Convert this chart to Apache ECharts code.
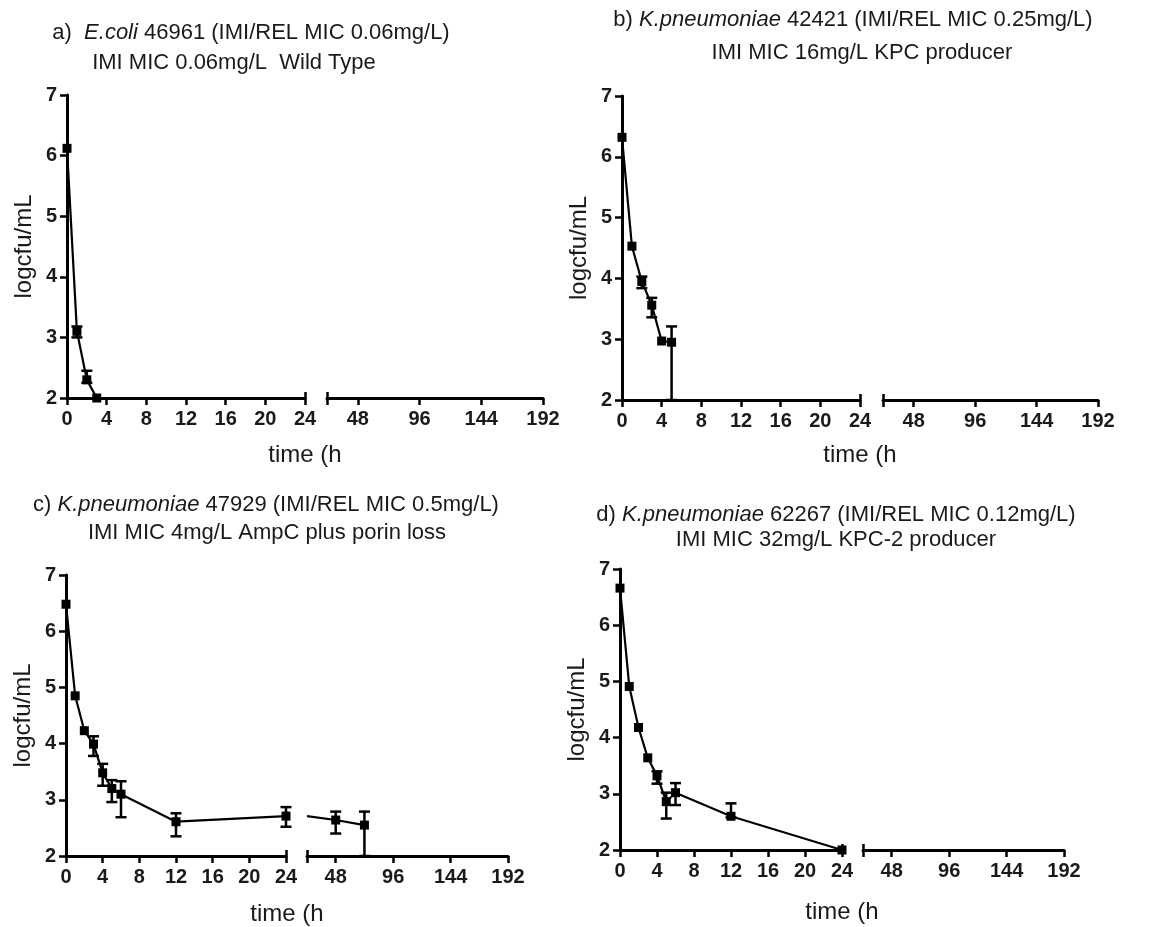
<!DOCTYPE html>
<html><head><meta charset="utf-8">
<script src="https://cdn.jsdelivr.net/npm/echarts@6/dist/echarts.min.js"></script>
<style>html,body{margin:0;padding:0;background:#fff}#c{width:1156px;height:927px}</style>
</head><body><div id="c"></div>
<script>
// ---------- DATA ----------
const leftTicksInterval = 4;           // 0..24 every 4 h
const rightTicks = [48, 96, 144, 192]; // broken segment tick labels
const yMin = 2, yMax = 7;

const timeA = [0, 1, 2, 3];
const meanA = [6.12, 3.10, 2.30, 2.00];
const upA   = [null, 3.18, 2.45, null];
const lowA  = [null, 3.00, 2.25, null];

const timeB = [0, 1, 2, 3, 4, 5];
const meanB = [6.32, 4.53, 3.95, 3.56, 2.97, 2.95];
const upB   = [null, null, 4.03, 3.68, null, 3.21];
const lowB  = [null, null, 3.84, 3.36, null, 2.00];

const timeC = [0, 1, 2, 3, 4, 5, 6, 12, 24, 48, 72];
const meanC = [6.48, 4.85, 4.23, 3.99, 3.48, 3.20, 3.10, 2.61, 2.71, 2.64, 2.55];
const upC   = [null, null, null, 4.13, 3.64, 3.35, 3.33, 2.76, 2.87, 2.79, 2.79];
const lowC  = [null, null, null, 3.78, 3.25, 2.96, 2.69, 2.35, 2.52, 2.40, 2.00];

const timeD = [0, 1, 2, 3, 4, 5, 6, 12, 24];
const meanD = [6.66, 4.91, 4.18, 3.64, 3.32, 2.86, 3.02, 2.60, 2.00];
const upD   = [null, null, null, null, 3.40, 3.02, 3.19, 2.83, null];
const lowD  = [null, null, null, null, 3.18, 2.56, 2.80, 2.58, null];

const titles1 = [
  ['a)  ', 'E.coli', ' 46961 (IMI/REL MIC 0.06mg/L)'],
  ['b) ', 'K.pneumoniae', ' 42421 (IMI/REL MIC 0.25mg/L)'],
  ['c) ', 'K.pneumoniae', ' 47929 (IMI/REL MIC 0.5mg/L)'],
  ['d) ', 'K.pneumoniae', ' 62267 (IMI/REL MIC 0.12mg/L)']
];
const titles2 = [
  'IMI MIC 0.06mg/L  Wild Type',
  'IMI MIC 16mg/L KPC producer',
  'IMI MIC 4mg/L AmpC plus porin loss',
  'IMI MIC 32mg/L KPC-2 producer'
];
const yName = 'logcfu/mL';
const xName = 'time (h';

// ---------- LAYOUT ----------
const layout = [
  {x0: 67,  x24: 305, r0: 327, r1: 543,  top: 95,  bottom: 398, t1: [251, 33],  t2: [234, 63],  xl: [305, 455]},
  {x0: 622, x24: 860, r0: 883, r1: 1098, top: 96,  bottom: 400, t1: [853, 20],  t2: [862, 53],  xl: [860, 455]},
  {x0: 66,  x24: 286, r0: 307, r1: 508,  top: 575, bottom: 856, t1: [266, 505], t2: [267, 533], xl: [287, 914]},
  {x0: 620, x24: 842, r0: 863, r1: 1064, top: 569, bottom: 850, t1: [836, 515], t2: [836, 540], xl: [842, 912]}
];
const panels = [
  {t: timeA, m: meanA, up: upA, lo: lowA},
  {t: timeB, m: meanB, up: upB, lo: lowB},
  {t: timeC, m: meanC, up: upC, lo: lowC},
  {t: timeD, m: meanD, up: upD, lo: lowD}
];

const FONT = '"Liberation Sans", Arial, sans-serif';
const INK = '#000';
const TXT = '#1a1a1a';

const grids = [], xAxes = [], yAxes = [], series = [], graphics = [];

const axisLine = {show: true, lineStyle: {color: INK, width: 3}};
const tickOut = {show: true, length: 7, lineStyle: {color: INK, width: 2.5}};
const tickLabel = {color: TXT, fontFamily: FONT, fontWeight: 'bold', fontSize: 20};

function errRender(params, api) {
  const x = api.value(0), lo = api.value(1), hi = api.value(2);
  const pHi = api.coord([x, hi]), pLo = api.coord([x, lo]);
  const w = 5.5;
  const st = {stroke: INK, lineWidth: 2.5};
  return {type: 'group', children: [
    {type: 'line', shape: {x1: pHi[0], y1: pHi[1], x2: pLo[0], y2: pLo[1]}, style: st},
    {type: 'line', shape: {x1: pHi[0] - w, y1: pHi[1], x2: pHi[0] + w, y2: pHi[1]}, style: st},
    {type: 'line', shape: {x1: pLo[0] - w, y1: pLo[1], x2: pLo[0] + w, y2: pLo[1]}, style: st}
  ]};
}

panels.forEach((p, i) => {
  const L = layout[i];
  const gL = grids.length;
  grids.push({left: L.x0, top: L.top, width: L.x24 - L.x0, height: L.bottom - L.top});
  const gR = grids.length;
  grids.push({left: L.r0, top: L.top, width: L.r1 - L.r0, height: L.bottom - L.top});

  const xiL = xAxes.length;
  xAxes.push({gridIndex: gL, type: 'value', position: 'bottom', min: 0, max: 24, interval: leftTicksInterval,
    axisLine, axisTick: tickOut, axisLabel: Object.assign({margin: 11}, tickLabel), splitLine: {show: false}});
  const xiR = xAxes.length;
  xAxes.push({gridIndex: gR, type: 'value', position: 'bottom', min: 24, max: 192,
    axisLine, axisTick: Object.assign({customValues: [24].concat(rightTicks)}, tickOut),
    axisLabel: Object.assign({margin: 11, customValues: rightTicks}, tickLabel), splitLine: {show: false}});
  // upward half of the break caps
  xAxes.push({gridIndex: gL, type: 'value', position: 'bottom', min: 0, max: 24,
    axisLine: {show: false}, axisTick: {show: true, inside: true, length: 6, customValues: [24], lineStyle: {color: INK, width: 2.5}},
    axisLabel: {show: false}, splitLine: {show: false}});
  xAxes.push({gridIndex: gR, type: 'value', position: 'bottom', min: 24, max: 192,
    axisLine: {show: false}, axisTick: {show: true, inside: true, length: 6, customValues: [24], lineStyle: {color: INK, width: 2.5}},
    axisLabel: {show: false}, splitLine: {show: false}});

  const yiL = yAxes.length;
  yAxes.push({gridIndex: gL, type: 'value', min: yMin, max: yMax, interval: 1,
    axisLine, axisTick: tickOut, axisLabel: Object.assign({margin: 10}, tickLabel), splitLine: {show: false},
    name: yName, nameLocation: 'middle', nameRotate: 90, nameGap: 31,
    nameTextStyle: {color: TXT, fontFamily: FONT, fontSize: 24}});
  const yiR = yAxes.length;
  yAxes.push({gridIndex: gR, type: 'value', min: yMin, max: yMax, show: false, splitLine: {show: false}});

  const leftPts = [], rightPts = [], errL = [], errR = [];
  p.t.forEach((t, k) => {
    if (t <= 24) leftPts.push([t, p.m[k]]);
    if (t >= 24) rightPts.push(t === 24 ? {value: [t, p.m[k]], symbolSize: 0} : [t, p.m[k]]);
    if (p.up[k] != null) (t <= 24 ? errL : errR).push([t, p.lo[k], p.up[k]]);
  });

  const lineBase = {type: 'line', symbol: 'rect', symbolSize: 9, showSymbol: true,
    lineStyle: {color: INK, width: 2.2}, itemStyle: {color: INK}, clip: false, z: 3};
  series.push(Object.assign({xAxisIndex: xiL, yAxisIndex: yiL, data: leftPts}, lineBase));
  if (rightPts.length > 1) series.push(Object.assign({xAxisIndex: xiR, yAxisIndex: yiR, data: rightPts}, lineBase));
  if (errL.length) series.push({type: 'custom', xAxisIndex: xiL, yAxisIndex: yiL, data: errL,
    renderItem: errRender, encode: {x: 0, y: [1, 2]}, clip: false, z: 4});
  if (errR.length) series.push({type: 'custom', xAxisIndex: xiR, yAxisIndex: yiR, data: errR,
    renderItem: errRender, encode: {x: 0, y: [1, 2]}, clip: false, z: 4});

  const rich = {
    n: {fontSize: 22, fontFamily: FONT, fill: TXT},
    i: {fontSize: 22, fontFamily: FONT, fill: TXT, fontStyle: 'italic'}
  };
  const t1 = titles1[i];
  graphics.push({type: 'text', x: L.t1[0], y: L.t1[1], style: {
    text: '{n|' + t1[0] + '}{i|' + t1[1] + '}{n|' + t1[2] + '}', rich,
    align: 'center', verticalAlign: 'middle', fontSize: 22, fontFamily: FONT, fill: TXT}});
  graphics.push({type: 'text', x: L.t2[0], y: L.t2[1], style: {
    text: titles2[i], align: 'center', verticalAlign: 'middle', fontSize: 22, fontFamily: FONT, fill: TXT}});
  graphics.push({type: 'text', x: L.xl[0], y: L.xl[1], style: {
    text: xName, align: 'center', verticalAlign: 'middle', fontSize: 24, fontFamily: FONT, fill: TXT}});
});

const chart = echarts.init(document.getElementById('c'), null, {renderer: 'canvas'});
chart.setOption({
  animation: false,
  backgroundColor: '#fff',
  grid: grids, xAxis: xAxes, yAxis: yAxes, series, graphic: graphics
});
</script>
</body></html>
